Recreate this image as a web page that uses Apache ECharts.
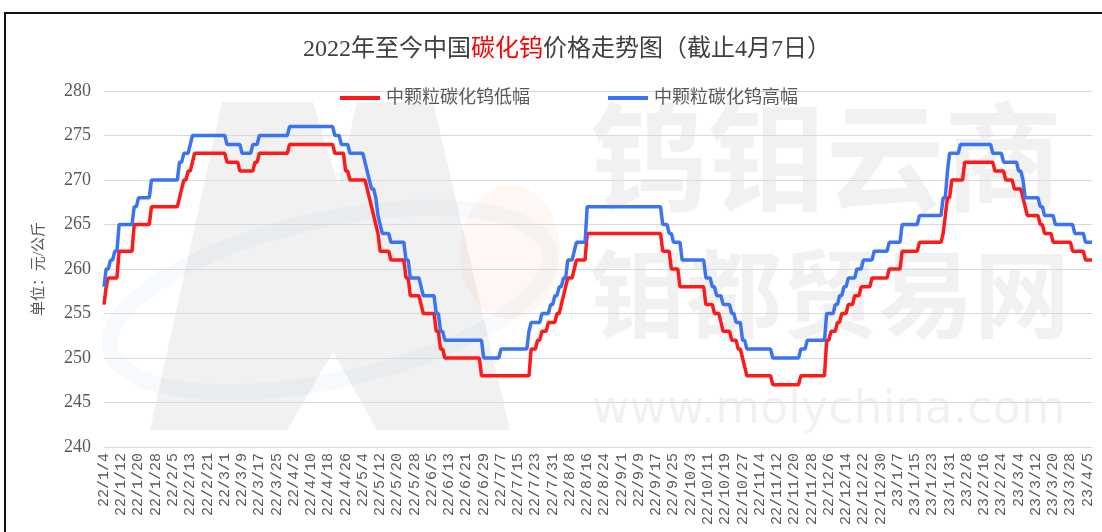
<!DOCTYPE html>
<html>
<head>
<meta charset="utf-8">
<script src="https://cdn.jsdelivr.net/npm/echarts@6/dist/echarts.min.js"></script>
<style>
  html, body { margin: 0; padding: 0; background: #fff; }
  #main { width: 1102px; height: 532px; }
</style>
</head>
<body>
<div id="main"></div>
<script>
// daily price series (元/公斤), given as the dates on which the price changed; held until the next change
const seriesNames = ['中颗粒碳化钨低幅', '中颗粒碳化钨高幅'];
const lowChanges = [
  ['22/1/4', 256], ['22/1/5', 258], ['22/1/6', 259], ['22/1/11', 262], ['22/1/18', 265],
  ['22/1/26', 267], ['22/2/8', 268], ['22/2/9', 269], ['22/2/10', 270], ['22/2/12', 271],
  ['22/2/14', 272], ['22/2/15', 273], ['22/3/2', 272], ['22/3/8', 271], ['22/3/15', 272],
  ['22/3/17', 273], ['22/3/31', 274], ['22/4/21', 273], ['22/4/26', 271], ['22/4/28', 270],
  ['22/5/6', 269], ['22/5/7', 268], ['22/5/8', 267], ['22/5/9', 266], ['22/5/10', 265],
  ['22/5/11', 264], ['22/5/12', 262], ['22/5/17', 261], ['22/5/24', 259], ['22/5/26', 257],
  ['22/5/31', 256], ['22/6/1', 255], ['22/6/7', 253], ['22/6/9', 251], ['22/6/11', 250],
  ['22/6/28', 248], ['22/7/21', 251], ['22/7/24', 252], ['22/7/26', 253], ['22/7/29', 254],
  ['22/8/2', 255], ['22/8/4', 256], ['22/8/5', 257], ['22/8/6', 258], ['22/8/7', 259],
  ['22/8/10', 260], ['22/8/11', 261], ['22/8/16', 264], ['22/9/20', 262], ['22/9/24', 260],
  ['22/9/28', 258], ['22/10/10', 256], ['22/10/14', 255], ['22/10/17', 254], ['22/10/18', 253],
  ['22/10/22', 252], ['22/10/25', 251], ['22/10/27', 250], ['22/10/28', 249], ['22/10/29', 248],
  ['22/11/10', 247], ['22/11/23', 248], ['22/12/5', 252], ['22/12/7', 253], ['22/12/10', 254],
  ['22/12/12', 255], ['22/12/15', 256], ['22/12/18', 257], ['22/12/21', 258], ['22/12/26', 259],
  ['23/1/3', 260], ['23/1/9', 262], ['23/1/17', 263], ['23/1/28', 264], ['23/1/29', 266],
  ['23/1/30', 268], ['23/2/1', 270], ['23/2/7', 272], ['23/2/21', 271], ['23/2/26', 270],
  ['23/3/2', 269], ['23/3/6', 268], ['23/3/7', 267], ['23/3/8', 266], ['23/3/14', 265],
  ['23/3/16', 264], ['23/3/20', 263], ['23/3/29', 262], ['23/4/4', 261]
];
const highChanges = [
  ['22/1/4', 258], ['22/1/5', 260], ['22/1/7', 261], ['22/1/9', 262], ['22/1/11', 265],
  ['22/1/18', 267], ['22/1/20', 268], ['22/1/26', 270], ['22/2/8', 272], ['22/2/10', 273],
  ['22/2/13', 274], ['22/2/14', 275], ['22/3/2', 274], ['22/3/9', 273], ['22/3/14', 274],
  ['22/3/17', 275], ['22/3/31', 276], ['22/4/21', 275], ['22/4/24', 274], ['22/4/28', 273],
  ['22/5/5', 272], ['22/5/6', 271], ['22/5/7', 270], ['22/5/8', 269], ['22/5/10', 268],
  ['22/5/11', 266], ['22/5/12', 265], ['22/5/13', 264], ['22/5/17', 263], ['22/5/24', 261],
  ['22/5/26', 259], ['22/5/31', 258], ['22/6/1', 257], ['22/6/7', 255], ['22/6/9', 253],
  ['22/6/11', 252], ['22/6/29', 250], ['22/7/7', 251], ['22/7/20', 253], ['22/7/21', 254],
  ['22/7/26', 255], ['22/7/30', 256], ['22/8/1', 257], ['22/8/3', 258], ['22/8/5', 259],
  ['22/8/7', 261], ['22/8/10', 262], ['22/8/11', 263], ['22/8/16', 267], ['22/9/20', 265],
  ['22/9/23', 264], ['22/9/25', 263], ['22/9/29', 261], ['22/10/10', 259], ['22/10/13', 258],
  ['22/10/15', 257], ['22/10/18', 256], ['22/10/22', 255], ['22/10/24', 254], ['22/10/27', 252],
  ['22/10/29', 251], ['22/11/10', 250], ['22/11/23', 251], ['22/11/26', 252], ['22/12/5', 255],
  ['22/12/9', 256], ['22/12/11', 257], ['22/12/13', 258], ['22/12/15', 259], ['22/12/19', 260],
  ['22/12/22', 261], ['22/12/27', 262], ['23/1/3', 263], ['23/1/9', 265], ['23/1/17', 266],
  ['23/1/28', 268], ['23/1/30', 271], ['23/1/31', 273], ['23/2/5', 274], ['23/2/20', 273],
  ['23/2/25', 272], ['23/3/4', 271], ['23/3/6', 270], ['23/3/7', 268], ['23/3/14', 267],
  ['23/3/16', 266], ['23/3/21', 265], ['23/3/30', 264], ['23/4/4', 263]
];

// one category per calendar day, 22/1/4 .. 23/4/7
const categories = [];
for (let d = new Date(2022, 0, 4); d <= new Date(2023, 3, 7); d.setDate(d.getDate() + 1)) {
  categories.push(String(d.getFullYear()).slice(2) + '/' + (d.getMonth() + 1) + '/' + d.getDate());
}

function holdSteps(changes) {
  const map = new Map(changes);
  let cur = null;
  return categories.map((c) => {
    if (map.has(c)) cur = map.get(c);
    return cur;
  });
}

const lowData = holdSteps(lowChanges);
const highData = holdSteps(highChanges);

const chart = echarts.init(document.getElementById('main'));
const serif = '"Liberation Serif", "Noto Sans CJK SC", serif';
const gray = '#595959';
const mark = 'rgba(0,0,0,0.055)';

chart.setOption({
  animation: false,
  backgroundColor: '#fff',
  title: {
    text: '2022年至今中国{r|碳化钨}价格走势图（截止4月7日）',
    left: 562,
    textAlign: 'center',
    top: 33,
    textStyle: {
      fontFamily: serif,
      fontSize: 24,
      fontWeight: 'normal',
      color: '#404040',
      rich: {
        r: { fontFamily: serif, fontSize: 24, color: '#ff0000' }
      }
    }
  },
  legend: {
    left: 335,
    top: 84,
    itemWidth: 40,
    itemHeight: 4,
    itemGap: 78,
    icon: 'rect',
    textStyle: { fontFamily: serif, fontSize: 18, color: gray, padding: [0, 0, 0, 1] },
    data: seriesNames
  },
  grid: { left: 104, right: 10, top: 91, bottom: 85 },
  graphic: [
    {
      type: 'rect', z: 100, silent: true,
      shape: { x: 5, y: 13, width: 1200, height: 600 },
      style: { fill: 'none', stroke: '#111', lineWidth: 2 }
    },
    // watermark logo
    {
      type: 'polygon', z: -20, silent: true,
      shape: {
        points: [[150, 430], [222, 102], [313, 102], [338, 185], [357, 102], [433, 102],
                 [510, 430], [377, 430], [333, 352], [287, 430]]
      },
      style: { fill: mark }
    },
    {
      type: 'ellipse', z: -21, silent: true,
      shape: { cx: 510, cy: 252, rx: 50, ry: 67 },
      style: { fill: 'rgba(255,170,120,0.09)' }
    },
    {
      type: 'ellipse', z: -21, silent: true,
      shape: { cx: 330, cy: 300, rx: 225, ry: 80 },
      rotation: 0.22, originX: 330, originY: 300,
      style: { fill: 'none', stroke: 'rgba(140,185,235,0.08)', lineWidth: 16 }
    },
    {
      type: 'text', z: -10, silent: true, left: 590, top: 98,
      style: { text: '钨钼云商', font: 'bold 118px "Noto Sans CJK SC"', fill: mark }
    },
    {
      type: 'text', z: -10, silent: true, left: 590, top: 246,
      style: { text: '钼都贸易网', font: 'bold 96px "Noto Sans CJK SC"', fill: mark }
    },
    {
      type: 'text', z: -10, silent: true, left: 592, top: 388,
      style: { text: 'www.molychina.com', font: '46px "DejaVu Sans"', fill: mark }
    }
  ],
  xAxis: {
    type: 'category',
    data: categories,
    boundaryGap: false,
    axisLine: { lineStyle: { color: '#d9d9d9' } },
    axisTick: { show: false },
    axisLabel: {
      interval: 7,
      rotate: 90,
      margin: 6,
      fontFamily: '"Liberation Mono", monospace',
      fontSize: 15,
      color: gray
    }
  },
  yAxis: {
    type: 'value',
    min: 240,
    max: 280,
    interval: 5,
    name: '单位：元/公斤',
    nameLocation: 'middle',
    nameRotate: 90,
    nameGap: 57,
    nameTextStyle: { fontFamily: serif, fontSize: 15, color: gray },
    axisLine: { show: false },
    axisTick: { show: false },
    axisLabel: { margin: 13, fontFamily: serif, fontSize: 18, color: gray },
    splitLine: { lineStyle: { color: '#d9d9d9' } }
  },
  series: [
    {
      name: seriesNames[0],
      type: 'line',
      data: lowData,
      showSymbol: false,
      color: '#ff1a1a',
      lineStyle: { width: 3.5, color: '#ff1a1a' }
    },
    {
      name: seriesNames[1],
      type: 'line',
      data: highData,
      showSymbol: false,
      color: '#3a74f5',
      lineStyle: { width: 3.5, color: '#3a74f5' }
    }
  ]
});
</script>
</body>
</html>
